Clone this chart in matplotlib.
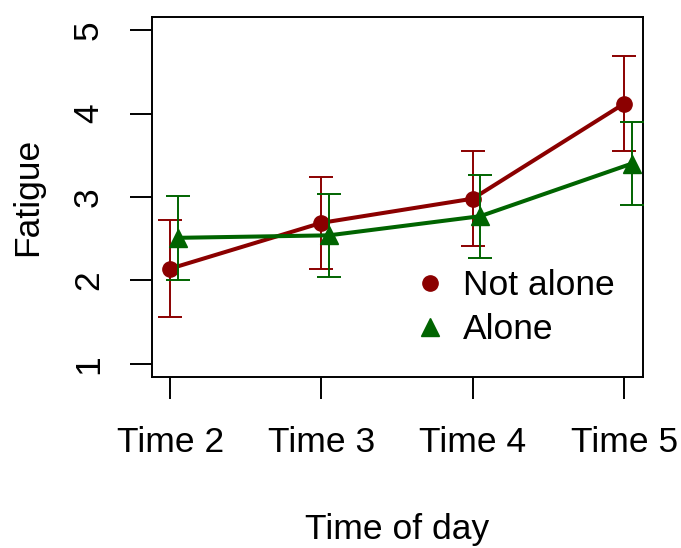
import matplotlib
matplotlib.use("Agg")
import matplotlib.pyplot as plt
import numpy as np

plt.rcParams['font.family'] = ['Liberation Sans', 'DejaVu Sans']

times = ["Time 2", "Time 3", "Time 4", "Time 5"]
not_alone_mean = [2.14, 2.69, 2.98, 4.12]
not_alone_err = [0.58, 0.55, 0.57, 0.57]
alone_mean = [2.51, 2.54, 2.77, 3.40]
alone_err = [0.50, 0.50, 0.50, 0.50]
offset = 0.05

red = "#8B0000"
green = "#006400"
fs = 25.5

fig = plt.figure(figsize=(6.81, 5.48), dpi=100)
ax = fig.add_axes([152/681, 1-377/548, (643-152)/681, (377-17)/548])

x = np.arange(1, len(times)+1)
ax.errorbar(x, not_alone_mean, yerr=not_alone_err, color=red, lw=2.9,
            marker='o', ms=11, elinewidth=1.4, capsize=8.3, capthick=1.4,
            label="Not alone", zorder=2)
ax.errorbar(x+offset, alone_mean, yerr=alone_err, color=green, lw=2.9,
            marker='^', ms=13, elinewidth=1.4, capsize=8.3, capthick=1.4,
            label="Alone", zorder=3)

ax.set_xlim(0.88, 4.125)
ax.set_ylim(0.84, 5.16)
ax.set_xticks(x)
ax.set_xticklabels(times, fontsize=fs)
ax.set_yticks([1, 2, 3, 4, 5])
ax.set_yticklabels(["1", "2", "3", "4", "5"], fontsize=fs, rotation=90, va='center')
ax.tick_params(axis='both', length=16, width=1.4)
ax.tick_params(axis='x', pad=19)
ax.tick_params(axis='y', pad=18)
for s in ax.spines.values():
    s.set_linewidth(1.4)
ax.set_xlabel("Time of day", fontsize=fs)
ax.set_ylabel("Fatigue", fontsize=fs)
ax.xaxis.set_label_coords(0.5, (377-530)/360)
ax.xaxis.label.set_va('center')
ax.yaxis.set_label_coords((28-152)/491, 0.5)
ax.yaxis.label.set_va('center')

h, l = ax.get_legend_handles_labels()
h = [hh[0] for hh in h]
leg = ax.legend(h, l, loc='upper left', bbox_to_anchor=(0.545, 0.299), frameon=False,
                fontsize=fs, handlelength=0.6, handletextpad=0.63, labelspacing=0.3,
                borderaxespad=0, borderpad=0)
for lh in leg.legend_handles:
    lh.set_linestyle('none')

fig.savefig("out.png", dpi=100)
